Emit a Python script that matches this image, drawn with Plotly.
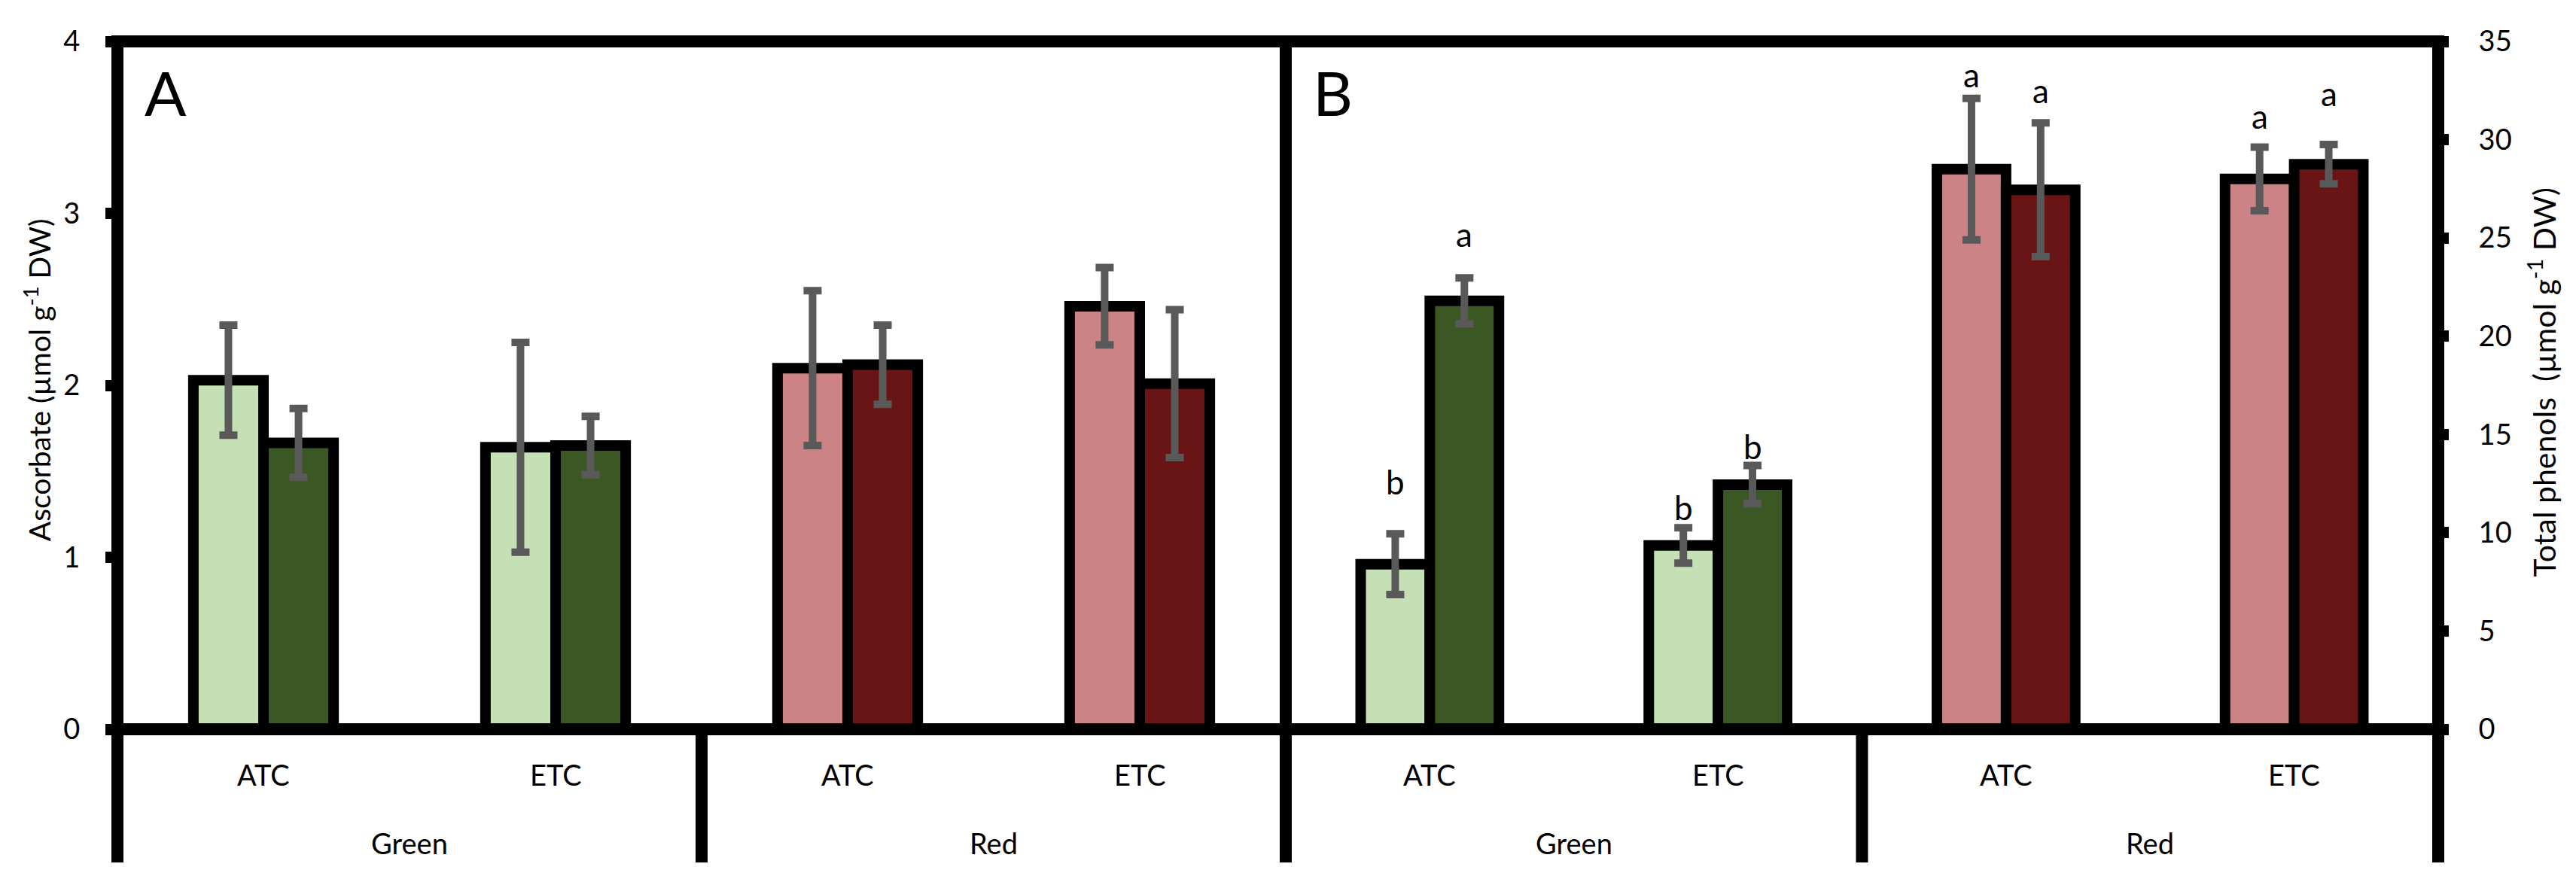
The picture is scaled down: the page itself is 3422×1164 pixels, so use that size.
import plotly.graph_objects as go

# categories
colour_group = ["Green", "Green", "Red", "Red"]
treatment = ["ATC", "ETC", "ATC", "ETC"]

# panel A: ascorbate (umol g-1 DW)
asc_light = [2.03, 1.64, 2.10, 2.46]
asc_light_err = [0.32, 0.61, 0.45, 0.225]
asc_dark = [1.665, 1.65, 2.12, 2.01]
asc_dark_err = [0.20, 0.17, 0.23, 0.43]

# panel B: total phenols (umol g-1 DW)
phe_light = [8.4, 9.35, 28.5, 28.0]
phe_light_err = [1.55, 0.9, 3.6, 1.62]
phe_dark = [21.8, 12.45, 27.45, 28.75]
phe_dark_err = [1.17, 0.97, 3.4, 1.0]

# significance letters (panel B) and the height they sit at
letters_light = ["b", "b", "a", "a"]
letters_light_y = [12.6, 11.3, 33.3, 31.2]
letters_dark = ["a", "b", "a", "a"]
letters_dark_y = [25.2, 14.4, 32.5, 32.35]

light_cols = {"Green": "#C5E0B4", "Red": "#CB8385"}
dark_cols = {"Green": "#3A5724", "Red": "#6A1515"}
err_col = "#595959"
FONT = "Lato"

bargap = 0.52
off = (1 - bargap) / 4   # centre of each bar inside a category

x = [colour_group, treatment]
fig = go.Figure()


def add_pair(light, light_err, dark, dark_err, xa, ya):
    fig.add_trace(go.Bar(
        x=x, y=light, xaxis=xa, yaxis=ya,
        marker=dict(color=[light_cols[g] for g in colour_group],
                    line=dict(color="black", width=14)),
        error_y=dict(type="data", array=light_err, color=err_col,
                     thickness=10, width=12),
        showlegend=False))
    fig.add_trace(go.Bar(
        x=x, y=dark, xaxis=xa, yaxis=ya,
        marker=dict(color=[dark_cols[g] for g in colour_group],
                    line=dict(color="black", width=14)),
        error_y=dict(type="data", array=dark_err, color=err_col,
                     thickness=10, width=12),
        showlegend=False))


add_pair(asc_light, asc_light_err, asc_dark, asc_dark_err, "x", "y")
add_pair(phe_light, phe_light_err, phe_dark, phe_dark_err, "x2", "y2")

W, H = 3422, 1164
ml, mr, mt, mb = 148, 191, 47, 203
plot_w = W - ml - mr
plot_h = H - mt - mb
split = (1700 - ml) / plot_w
n = len(treatment)


def below(px):
    # paper y for a point px pixels under the bottom of the plot
    return -px / plot_h


xcommon = dict(type="multicategory", showticklabels=False, ticks="",
               showline=False, showgrid=False, zeroline=False,
               showdividers=False, automargin=False,
               range=[-0.5, n - 0.5])
ycommon = dict(ticks="outside", tickwidth=15, tickcolor="black",
               showline=False, showgrid=False, zeroline=False,
               automargin=False,
               tickfont=dict(family=FONT, size=38, color="black"))

fig.update_layout(
    template="none",
    width=W, height=H,
    margin=dict(l=ml, r=mr, t=mt, b=mb),
    paper_bgcolor="white", plot_bgcolor="white",
    barmode="group", bargap=bargap, bargroupgap=0,
    font=dict(family=FONT, color="black"),
    xaxis=dict(xcommon, domain=[0, split], anchor="y"),
    xaxis2=dict(xcommon, domain=[split, 1], anchor="y2"),
    yaxis=dict(ycommon, range=[0, 4], dtick=1, anchor="x", ticklen=15,
               ticklabelstandoff=26),
    yaxis2=dict(ycommon, range=[0, 35], dtick=5, anchor="x2", side="right",
                ticklen=13, ticklabelstandoff=32),
)

for xr, yr, (d0, d1) in [("x", "y", (0, split)), ("x2", "y2", (split, 1))]:
    # thick frame round each panel
    fig.add_shape(type="rect", xref=xr + " domain", yref=yr + " domain",
                  x0=0, x1=1, y0=0, y1=1,
                  line=dict(color="black", width=16), layer="above")
    # Excel-style group dividers under the axis (paper refs so the
    # outer ones are not clipped at the plot edge)
    bounds = [i - 0.5 for i in range(n)
              if i == 0 or colour_group[i] != colour_group[i - 1]]
    bounds.append(n - 0.5)
    for b in bounds:
        px = d0 + (b + 0.5) / n * (d1 - d0)
        fig.add_shape(type="line", xref="paper", yref="paper", x0=px, x1=px,
                      y0=0, y1=below(177),
                      line=dict(color="black", width=16), layer="above")
    # treatment labels and colour-group labels
    for i, t in enumerate(treatment):
        fig.add_annotation(text=t, xref=xr, yref="paper", x=i, y=below(60),
                           xanchor="center", yanchor="middle",
                           showarrow=False,
                           font=dict(family=FONT, size=38))
    for g in dict.fromkeys(colour_group):
        idx = [i for i, c in enumerate(colour_group) if c == g]
        fig.add_annotation(text=g, xref=xr, yref="paper",
                           x=sum(idx) / len(idx), y=below(151),
                           xanchor="center", yanchor="middle",
                           showarrow=False,
                           font=dict(family=FONT, size=38))

# axis titles
fig.add_annotation(text="Ascorbate (µmol g<sup>-1</sup> DW)", textangle=-90,
                   xref="paper", yref="paper",
                   x=(41.5 - ml) / plot_w, y=0.508,
                   xanchor="center", yanchor="middle", showarrow=False,
                   font=dict(family=FONT, size=39))
fig.add_annotation(text="Total phenols\u00a0 (µmol g<sup>-1</sup> DW)",
                   textangle=-90, xref="paper", yref="paper",
                   x=(3369 - ml) / plot_w, y=0.505,
                   xanchor="center", yanchor="middle", showarrow=False,
                   font=dict(family=FONT, size=41))

# panel letters
for lab, xr, yr in [("A", "x domain", "y domain"), ("B", "x2 domain", "y2 domain")]:
    fig.add_annotation(text=lab, xref=xr, yref=yr, x=0, y=1,
                       xanchor="left", yanchor="top", xshift=34, yshift=-16,
                       showarrow=False, font=dict(family=FONT, size=82))

# significance letters above panel B bars
for i in range(n):
    fig.add_annotation(text=letters_light[i], xref="x2", yref="y2",
                       x=i - off, y=letters_light_y[i], showarrow=False,
                       font=dict(family=FONT, size=44))
    fig.add_annotation(text=letters_dark[i], xref="x2", yref="y2",
                       x=i + off, y=letters_dark_y[i], showarrow=False,
                       font=dict(family=FONT, size=44))

fig.write_html("out.html")
